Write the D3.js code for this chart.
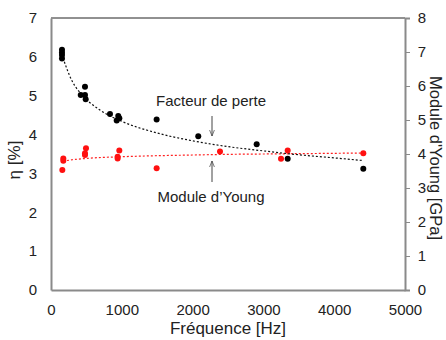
<!DOCTYPE html>
<html><head><meta charset="utf-8">
<script src="https://cdn.jsdelivr.net/npm/d3@7"></script>
<style>
html,body{margin:0;padding:0;background:#fff;}
svg text{font-family:"Liberation Sans",Arial,sans-serif;fill:#222;}
</style></head>
<body><svg id="c" width="446" height="340"></svg>
<script>
// Loss factor (η, %) measurements
const lossFreq = [155,155,155,155, 420,480,480,490, 833, 928,950,965, 1492, 2080, 2905, 3343, 4411];
const lossEta  = [6.18,6.11,6.05,5.96, 5.02,5.23,5.02,4.91, 4.53, 4.36,4.48,4.42, 4.39, 3.96, 3.75, 3.38, 3.12];
// Young's modulus (GPa) measurements
const youngFreq = [160,174,174, 480,494,480, 941,941,965, 1492, 2387, 3249, 3343, 4411];
const youngE    = [3.53,3.80,3.87, 3.97,4.17,4.02, 3.87,3.92,4.10, 3.58, 4.07, 3.86, 4.10, 4.02];
// Trend lines
const lossTrendFreq = [150,300,450,700,1000,1500,2000,2500,3000,3500,4000,4411];
const lossTrendEta  = [6.07,5.37,5.00,4.62,4.34,4.04,3.84,3.69,3.58,3.48,3.40,3.33];
const youngTrendFreq = [170,300,500,1000,1500,2000,2500,3000,3500,4000,4411];
const youngTrendE    = [3.79,3.83,3.87,3.92,3.95,3.97,3.99,4.00,4.01,4.02,4.03];
// Ticks
const xTicks = [0,1000,2000,3000,4000,5000];
const leftTicks = [0,1,2,3,4,5,6,7];
const rightTicks = [0,1,2,3,4,5,6,7,8];

const svg = d3.select("#c");
const L = 51, R = 405, T = 18, B = 290;
const x = d3.scaleLinear().domain([0,5000]).range([L,R]);
const yL = d3.scaleLinear().domain([0,7]).range([B,T]);
const yR = d3.scaleLinear().domain([0,8]).range([B,T]);

// frame
svg.append("line").attr("x1",L).attr("x2",R).attr("y1",T).attr("y2",T).attr("stroke","#222").attr("stroke-width",1);

// axes
const ax = svg.append("g").attr("transform",`translate(0,${B})`)
  .call(d3.axisBottom(x).tickValues(xTicks).tickSize(0).tickPadding(14).tickFormat(d3.format("d")));
const al = svg.append("g").attr("transform",`translate(${L},0)`)
  .call(d3.axisLeft(yL).tickValues(leftTicks).tickSize(0).tickPadding(14).tickFormat(d3.format("d")));
const ar = svg.append("g").attr("transform",`translate(${R},0)`)
  .call(d3.axisRight(yR).tickValues(rightTicks).tickSize(5).tickPadding(7).tickFormat(d3.format("d")));
[ax,al,ar].forEach(g=>{
  g.select(".domain").attr("stroke","#8a8a8a").attr("stroke-width",2);
  g.selectAll(".tick line").attr("stroke","#8a8a8a");
  g.selectAll(".tick text").attr("font-size",15).attr("fill","#222");
});
al.selectAll(".tick text").attr("text-anchor","middle").attr("x",-18);
ar.selectAll(".tick text").attr("text-anchor","middle").attr("x",17);

// trend lines
const lossLine = d3.line().x(i=>x(lossTrendFreq[i])).y(i=>yL(lossTrendEta[i])).curve(d3.curveMonotoneX);
const youngLine = d3.line().x(i=>x(youngTrendFreq[i])).y(i=>yR(youngTrendE[i])).curve(d3.curveMonotoneX);
svg.append("path").attr("d",youngLine(d3.range(youngTrendFreq.length)))
  .attr("fill","none").attr("stroke","#ff2020").attr("stroke-width",1.2).attr("stroke-dasharray","2,2");
svg.append("path").attr("d",lossLine(d3.range(lossTrendFreq.length)))
  .attr("fill","none").attr("stroke","#111").attr("stroke-width",1.2).attr("stroke-dasharray","2,2");

// points
svg.append("g").selectAll("circle").data(d3.range(lossFreq.length)).join("circle")
  .attr("cx",i=>x(lossFreq[i])).attr("cy",i=>yL(lossEta[i])).attr("r",3).attr("fill","#000");
svg.append("g").selectAll("circle").data(d3.range(youngFreq.length)).join("circle")
  .attr("cx",i=>x(youngFreq[i])).attr("cy",i=>yR(youngE[i])).attr("r",3).attr("fill","#ff1010");

// annotations
svg.append("text").attr("x",211).attr("y",106).attr("text-anchor","middle").attr("font-size",15).text("Facteur de perte");
svg.append("text").attr("x",211).attr("y",202).attr("text-anchor","middle").attr("font-size",15).text("Module d\u2019Young");
const defs = svg.append("defs");
defs.append("marker").attr("id","ah").attr("viewBox","0 0 10 10").attr("refX",10).attr("refY",5)
  .attr("markerWidth",6).attr("markerHeight",6).attr("orient","auto")
  .append("path").attr("d","M0,1 L10,5 L0,9").attr("fill","none").attr("stroke","#444").attr("stroke-width",1.2);
svg.append("line").attr("x1",212).attr("x2",212).attr("y1",116).attr("y2",136).attr("stroke","#444").attr("stroke-width",1).attr("marker-end","url(#ah)");
svg.append("line").attr("x1",212).attr("x2",212).attr("y1",182).attr("y2",161).attr("stroke","#444").attr("stroke-width",1).attr("marker-end","url(#ah)");

// axis titles
svg.append("text").attr("x",(L+R)/2).attr("y",334).attr("text-anchor","middle").attr("font-size",17).text("Fréquence [Hz]");
svg.append("text").attr("transform","translate(20,160) rotate(-90)").attr("text-anchor","middle").attr("font-size",17).text("η [%]");
svg.append("text").attr("transform","translate(430,158) rotate(90)").attr("text-anchor","middle").attr("font-size",16.5).text("Module d'Young [GPa]");
</script></body></html>
